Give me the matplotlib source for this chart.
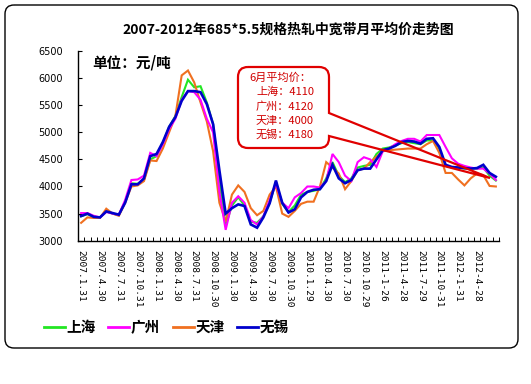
import matplotlib
matplotlib.use('Agg')
import matplotlib.pyplot as plt
import numpy as np
from matplotlib.path import Path
from matplotlib.patches import PathPatch
from matplotlib.transforms import Affine2D
from matplotlib.lines import Line2D

plt.rcParams['font.family'] = ['Noto Sans CJK SC', 'DejaVu Sans']

# monthly average prices, 2007.1 - 2012.6 (yuan/ton)
shanghai = [3450, 3490, 3440, 3430, 3540, 3500, 3470, 3720, 4060, 4050, 4120, 4500, 4560, 4800,
            5100, 5300, 5650, 5970, 5830, 5850, 5550, 5150, 4100, 3280, 3650, 3800, 3650, 3350,
            3330, 3450, 3700, 4080, 3680, 3530, 3650, 3850, 3900, 3920, 3950, 4150, 4450, 4200,
            4080, 4150, 4350, 4380, 4400, 4600, 4700, 4720, 4760, 4800, 4820, 4800, 4780, 4850,
            4850, 4700, 4380, 4350, 4350, 4330, 4330, 4330, 4350, 4200, 4110]
guangzhou = [3510, 3510, 3460, 3430, 3530, 3500, 3480, 3750, 4120, 4130, 4200, 4620, 4560, 4780,
             5060, 5250, 5600, 5760, 5740, 5600, 5250, 5000, 3900, 3200, 3700, 3820, 3700, 3380,
             3300, 3450, 3750, 4050, 3700, 3600, 3800, 3880, 4000, 4000, 3980, 4100, 4600, 4450,
             4200, 4100, 4450, 4540, 4500, 4360, 4650, 4700, 4780, 4840, 4880, 4880, 4830, 4950,
             4950, 4950, 4730, 4520, 4420, 4380, 4350, 4330, 4330, 4240, 4120]
tianjin = [3330, 3430, 3420, 3420, 3590, 3500, 3460, 3700, 4000, 4020, 4100, 4480, 4470, 4700,
           5000, 5300, 6050, 6140, 5920, 5550, 5200, 4650, 3700, 3350, 3850, 4020, 3900, 3600,
           3470, 3550, 3850, 4000, 3500, 3440, 3550, 3680, 3720, 3720, 4000, 4450, 4350, 4240,
           3950, 4100, 4300, 4330, 4450, 4550, 4650, 4670, 4680, 4690, 4700, 4700, 4700, 4780,
           4840, 4620, 4250, 4250, 4130, 4020, 4150, 4240, 4210, 4010, 4000]
wuxi = [3455, 3500, 3440, 3430, 3540, 3510, 3480, 3700, 4040, 4040, 4150, 4560, 4600, 4820,
        5100, 5280, 5580, 5760, 5760, 5740, 5520, 5150, 4300, 3500, 3600, 3670, 3640, 3300,
        3240, 3430, 3690, 4110, 3700, 3520, 3580, 3800, 3900, 3940, 3950, 4100, 4400, 4150,
        4060, 4120, 4300, 4330, 4330, 4500, 4670, 4700, 4750, 4820, 4840, 4830, 4790, 4880,
        4890, 4730, 4400, 4360, 4350, 4340, 4330, 4340, 4400, 4250, 4180]

date_labels = ['2007.1.31', '2007.4.30', '2007.7.31', '2007.10.31', '2008.1.31', '2008.4.30',
               '2008.7.31', '2008.10.30', '2009.1.30', '2009.4.30', '2009.7.30', '2009.10.30',
               '2010.1.29', '2010.4.30', '2010.7.30', '2010.10.29', '2011-1-26', '2011-4-28',
               '2011-7-29', '2011-10-31', '2012-1-31', '2012-4-28']

series_names = ['上海', '广州', '天津', '无锡']
series_colors = ['#22E622', '#FF00FF', '#F07020', '#0000CC']
june_avg = [4110, 4120, 4000, 4180]

W, H = 531, 384
fig = plt.figure(figsize=(W / 100, H / 100), dpi=100)
fig.patch.set_facecolor('white')

# pixel (from top-left) -> figure transform
pix = Affine2D().scale(1 / W, -1 / H).translate(0, 1) + fig.transFigure


def rounded_path(x0, y0, x1, y1, r, wedge=None):
    # outline of a rounded box, optional wedge on the right side
    verts = [(x0 + r, y0), (x1 - r, y0), (x1, y0), (x1, y0 + r)]
    codes = [Path.MOVETO, Path.LINETO, Path.CURVE3, Path.CURVE3]
    if wedge is not None:
        ya, tip, yb = wedge
        verts += [(x1, ya), tip, (x1, yb)]
        codes += [Path.LINETO, Path.LINETO, Path.LINETO]
    verts += [(x1, y1 - r), (x1, y1), (x1 - r, y1), (x0 + r, y1), (x0, y1), (x0, y1 - r),
              (x0, y0 + r), (x0, y0), (x0 + r, y0)]
    codes += [Path.LINETO, Path.CURVE3, Path.CURVE3, Path.LINETO, Path.CURVE3, Path.CURVE3,
              Path.LINETO, Path.CURVE3, Path.CURVE3]
    return Path(verts, codes)


# outer frame
fig.patches.append(PathPatch(rounded_path(5, 5, 518, 348, 9), transform=pix,
                             facecolor='none', edgecolor='black', lw=1.0))

ax = fig.add_axes([78 / W, 1 - 240.7 / H, (499 - 78) / W, (240.7 - 51) / H])
ax.set_facecolor('white')

x = np.arange(len(wuxi))
for name, vals, c in [('上海', shanghai, series_colors[0]), ('天津', tianjin, series_colors[2]),
                      ('广州', guangzhou, series_colors[1]), ('无锡', wuxi, series_colors[3])]:
    ax.plot(x, vals, color=c, lw=1.9 if name == '无锡' else 1.5, solid_joinstyle='miter')

ax.set_xlim(-0.5, len(wuxi) - 0.5)
ax.set_ylim(3000, 6500)
ax.set_yticks(np.arange(3000, 6501, 500))
ax.tick_params(axis='y', direction='in', length=3, width=0.8, pad=11, labelsize=7)
for t in ax.get_yticklabels():
    t.set_family('DejaVu Sans')

ax.set_xticks(np.arange(0, len(date_labels) * 3, 3))
ax.set_xticklabels(date_labels, rotation=-90, fontsize=6.8, family='DejaVu Sans Mono',
                   va='top', ha='center')
ax.set_xticks(np.arange(-0.5, len(wuxi), 1), minor=True)
ax.tick_params(axis='x', which='major', length=0, pad=7)
ax.tick_params(axis='x', which='minor', direction='in', length=3, width=0.7)
for s in ['top', 'right']:
    ax.spines[s].set_visible(False)
for s in ['left', 'bottom']:
    ax.spines[s].set_linewidth(1.0)

# title and unit
fig.text(*(np.array([288 / W, 1 - 30 / H])), '2007-2012年685*5.5规格热轧中宽带月平均价走势图',
         ha='center', va='center', fontsize=10, fontweight='bold')
fig.text(92 / W, 1 - 62 / H, '单位：元/吨', ha='left', va='center', fontsize=10.5,
         fontweight='bold')

# callout
fig.patches.append(PathPatch(rounded_path(238, 67, 329, 148, 10, wedge=(113, (490, 178), 136)),
                             transform=pix, facecolor='none', edgecolor='#E00000', lw=1.6,
                             zorder=5))
fig.text(249 / W, 1 - 77.5 / H, '6月平均价：', ha='left', va='center', fontsize=8,
         color='#D00000')
for k, (nm, v) in enumerate(zip(series_names, june_avg)):
    fig.text(256 / W, 1 - (92 + 14.3 * k) / H, '%s：%d' % (nm, v), ha='left', va='center',
             fontsize=8, color='#D00000')

# legend
handles = [Line2D([0], [0], color=c, lw=2) for c in series_colors]
fig.legend(handles, series_names, loc='center left', bbox_to_anchor=(44 / W, 1 - 327 / H),
           ncol=4, frameon=False, handlelength=1.45, handletextpad=0.1, columnspacing=0.85,
           borderpad=0, borderaxespad=0, prop={'family': 'Noto Sans CJK SC', 'weight': 'bold',
                                               'size': 10.5})

fig.savefig('out.png', dpi=100)
